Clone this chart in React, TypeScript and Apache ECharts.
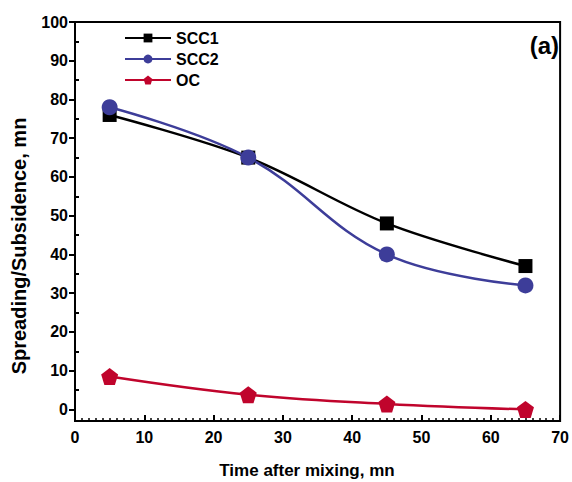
import React, { useEffect, useRef } from "react";
import * as echarts from "echarts";

const times = [5, 25, 45, 65];
const scc1 = [76, 65, 48, 37];
const scc2 = [78, 65, 40, 32];
const oc = [8.5, 3.8, 1.4, 0];
const yMajor = [0, 10, 20, 30, 40, 50, 60, 70, 80, 90, 100];
const yMinor = [5, 15, 25, 35, 45, 55, 65, 75, 85, 95];

const pentagon =
  "path://M0,-1 L0.951,-0.309 L0.588,0.809 L-0.588,0.809 L-0.951,-0.309 Z";

const FONT = "Liberation Sans, Arial, sans-serif";

export default function App() {
  const ref = useRef<HTMLDivElement>(null);
  useEffect(() => {
    const chart = echarts.init(ref.current!, null, { renderer: "svg" });
    const pts = (ys: number[]) => times.map((t, i) => [t, ys[i]]);
    chart.setOption({
      animation: false,
      backgroundColor: "#fff",
      grid: {
        left: 75,
        right: 10,
        top: 22,
        bottom: 61,
        show: true,
        borderColor: "#000",
        borderWidth: 2,
        containLabel: false,
      },
      legend: {
        orient: "vertical",
        left: 119,
        top: 25,
        itemWidth: 46,
        itemHeight: 11,
        itemGap: 5,
        textStyle: { fontFamily: FONT, fontWeight: "bold", fontSize: 16, color: "#000" },
        data: ["SCC1", "SCC2", "OC"],
      },
      xAxis: {
        type: "value",
        min: 0,
        max: 70,
        interval: 10,
        axisLine: { onZero: false, lineStyle: { color: "#000", width: 2 } },
        axisTick: { inside: true, length: 6, lineStyle: { color: "#000", width: 2 } },
        minorTick: { show: true, splitNumber: 10, length: 3, lineStyle: { color: "#000", width: 1.5 } },
        axisLabel: { fontFamily: FONT, fontWeight: "bold", fontSize: 16, color: "#000", margin: 8 },
        splitLine: { show: false },
      },
      yAxis: [
        {
          type: "value",
          min: -3,
          max: 100,
          axisLine: { show: true, onZero: false, lineStyle: { color: "#000", width: 2 } },
          axisTick: {
            show: true,
            inside: false,
            length: 6,
            customValues: yMajor,
            lineStyle: { color: "#000", width: 2 },
          },
          axisLabel: {
            fontFamily: FONT,
            fontWeight: "bold",
            fontSize: 16,
            color: "#000",
            margin: 7,
            customValues: yMajor,
          },
          splitLine: { show: false },
        },
        {
          type: "value",
          min: -3,
          max: 100,
          position: "left",
          axisLine: { show: false, onZero: false },
          axisTick: {
            show: true,
            inside: true,
            length: 4,
            customValues: yMinor,
            lineStyle: { color: "#000", width: 2 },
          },
          axisLabel: { show: false },
          splitLine: { show: false },
        },
      ],
      series: [
        {
          name: "SCC1",
          type: "line",
          data: pts(scc1),
          smooth: 0.35,
          symbol: "rect",
          symbolSize: 14,
          color: "#000000",
          lineStyle: { width: 2.5, color: "#000000" },
          itemStyle: { color: "#000000" },
        },
        {
          name: "SCC2",
          type: "line",
          data: pts(scc2),
          smooth: 0.4,
          symbol: "circle",
          symbolSize: 16,
          color: "#3d3d99",
          lineStyle: { width: 2.5, color: "#3d3d99" },
          itemStyle: { color: "#3d3d99" },
        },
        {
          name: "OC",
          type: "line",
          data: pts(oc),
          smooth: 0.4,
          symbol: pentagon,
          symbolSize: 17,
          color: "#c0042c",
          lineStyle: { width: 2.5, color: "#c0042c" },
          itemStyle: { color: "#c0042c" },
        },
      ],
      graphic: [
        {
          type: "text",
          right: 13,
          top: 33,
          style: {
            text: "(a)",
            fontFamily: FONT,
            fontWeight: "bold",
            fontSize: 24,
            fill: "#000",
          },
        },
        {
          type: "text",
          x: 307,
          y: 470,
          style: {
            text: "Time after mixing, mn",
            fontFamily: FONT,
            fontWeight: "bold",
            fontSize: 17,
            fill: "#000",
            align: "center",
            verticalAlign: "middle",
          },
        },
        {
          type: "text",
          x: 19,
          y: 246,
          rotation: Math.PI / 2,
          style: {
            text: "Spreading/Subsidence, mn",
            fontFamily: FONT,
            fontWeight: "bold",
            fontSize: 20,
            fill: "#000",
            align: "center",
            verticalAlign: "middle",
          },
        },
      ],
    });
    return () => chart.dispose();
  }, []);
  return (
    <div
      ref={ref}
      style={{ position: "fixed", left: 0, top: 0, width: 572, height: 482 }}
    />
  );
}
